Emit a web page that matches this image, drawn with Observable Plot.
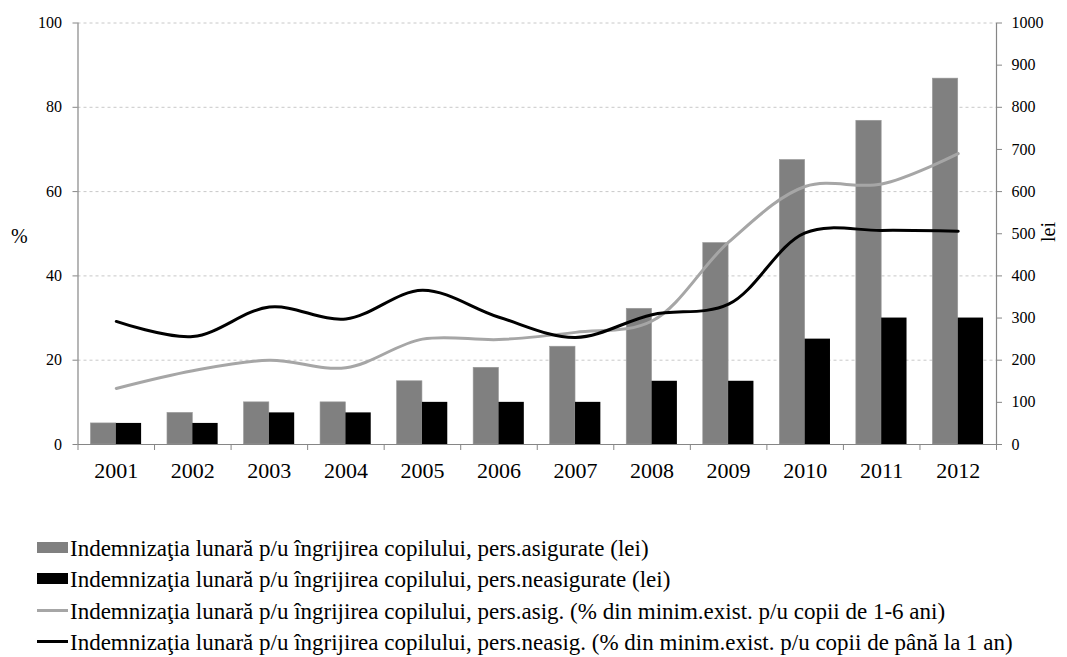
<!DOCTYPE html>
<html>
<head>
<meta charset="utf-8">
<script src="https://cdn.jsdelivr.net/npm/d3@7"></script>
<script src="https://cdn.jsdelivr.net/npm/@observablehq/plot@0.6"></script>
<style>
  html, body { margin: 0; padding: 0; background: #fff; }
  #wrap { position: relative; width: 1067px; height: 657px; font-family: "Liberation Serif", "Times New Roman", serif; color: #000; }
  .axlab { position: absolute; font-size: 20px; line-height: 1; }
  #legend { position: absolute; left: 37px; top: 533px; font-size: 23px; line-height: 31.3px; }
  .row { white-space: nowrap; height: 31.3px; }
  .mk { display: inline-block; width: 31px; vertical-align: 0px; margin-right: 2px; position: relative; }
  .txt { display: inline-block; }
</style>
</head>
<body>
<div id="wrap">
  <div id="chart"></div>
  <div class="axlab" style="left:11px; top:226px;">%</div>
  <div class="axlab" style="left:1038px; top:222px; transform: rotate(-90deg); transform-origin: center;">lei</div>
  <div id="legend"></div>
</div>
<script>
const years = [2001, 2002, 2003, 2004, 2005, 2006, 2007, 2008, 2009, 2010, 2011, 2012];
const asigLei = [50, 75, 100, 100, 150, 182, 232, 322, 478, 675, 768, 868];
const neasigLei = [50, 50, 75, 75, 100, 100, 100, 150, 150, 250, 300, 300];
const asigPct = [13.3, 17.5, 20.0, 18.2, 25.0, 24.9, 26.6, 29.3, 48.0, 61.2, 61.8, 69.0];
const neasigPct = [29.2, 25.6, 32.6, 29.8, 36.6, 30.2, 25.4, 30.8, 33.3, 50.2, 50.8, 50.6];
const leftTicks = [0, 20, 40, 60, 80, 100];
const rightTicks = [0, 100, 200, 300, 400, 500, 600, 700, 800, 900, 1000];
const seriesNames = [
  "Indemnizaţia lunară p/u îngrijirea copilului, pers.asigurate (lei)",
  "Indemnizaţia lunară p/u îngrijirea copilului, pers.neasigurate (lei)",
  "Indemnizaţia lunară p/u îngrijirea copilului, pers.asig. (% din minim.exist. p/u copii de 1-6 ani)",
  "Indemnizaţia lunară p/u îngrijirea copilului, pers.neasig. (% din minim.exist. p/u copii de până la 1 an)"
];

const colors = {barGrey: "#808080", barBlack: "#000000", lineGrey: "#a6a6a6", lineBlack: "#000000", axis: "#868686", grid: "#c8c8c8"};
const leiPerPct = 10; // right axis: 1000 lei == 100 %
const barHalf = 0.331;

const rows = years.map((year, i) => ({year, asigLei: asigLei[i], neasigLei: neasigLei[i], asigPct: asigPct[i], neasigPct: neasigPct[i]}));
const boundaries = [...years.map(y => y - 0.5), years[years.length - 1] + 0.5];

const chart = Plot.plot({
  width: 1067,
  height: 490,
  marginLeft: 77.5,
  marginRight: 71,
  marginTop: 22.5,
  marginBottom: 46,
  x: {type: "linear", domain: [years[0] - 0.5, years[years.length - 1] + 0.5]},
  y: {domain: [0, 100]},
  style: {fontFamily: '"Liberation Serif", "Times New Roman", serif', fontSize: "16px", color: "#000", background: "#fff", overflow: "visible"},
  marks: [
    Plot.ruleY(leftTicks.filter(d => d > 0), {stroke: colors.grid, strokeDasharray: "3,3", strokeWidth: 1}),
    Plot.rectY(rows, {x1: d => d.year - barHalf, x2: d => d.year, y1: 0, y2: d => d.asigLei / leiPerPct, fill: colors.barGrey, stroke: "#9a9a9a", strokeWidth: 0.6}),
    Plot.rectY(rows, {x1: d => d.year, x2: d => d.year + barHalf, y1: 0, y2: d => d.neasigLei / leiPerPct, fill: colors.barBlack}),
    Plot.ruleX([boundaries[0]], {stroke: colors.axis, strokeWidth: 1.2}),
    Plot.ruleX([boundaries[boundaries.length - 1]], {stroke: colors.axis, strokeWidth: 1.2}),
    Plot.ruleY([0], {stroke: colors.axis, strokeWidth: 1.2}),
    Plot.line(rows, {x: "year", y: "asigPct", stroke: colors.lineGrey, strokeWidth: 3, curve: "catmull-rom"}),
    Plot.line(rows, {x: "year", y: "neasigPct", stroke: colors.lineBlack, strokeWidth: 3, curve: "catmull-rom"}),
    Plot.axisY({anchor: "left", ticks: leftTicks, tickSize: 5, tickPadding: 11, label: null, stroke: colors.axis, fontSize: 16}),
    Plot.axisY({anchor: "right", ticks: rightTicks.map(v => v / leiPerPct), tickFormat: d => String(Math.round(d * leiPerPct)), tickSize: 5, tickPadding: 10, label: null, stroke: colors.axis, fontSize: 16}),
    Plot.axisX({ticks: boundaries, tickFormat: () => "", tickSize: 6, label: null, stroke: colors.axis}),
    Plot.axisX({ticks: years, tickFormat: d => String(d), tickSize: 0, tickPadding: 18, label: null, fontSize: 22})
  ]
});
document.getElementById("chart").appendChild(chart);

const legend = document.getElementById("legend");
const markers = [
  {type: "rect", color: colors.barGrey},
  {type: "rect", color: colors.barBlack},
  {type: "line", color: colors.lineGrey},
  {type: "line", color: colors.lineBlack}
];
seriesNames.forEach((name, i) => {
  const row = document.createElement("div");
  row.className = "row";
  const mk = document.createElement("span");
  mk.className = "mk";
  const m = markers[i];
  if (m.type === "rect") { mk.style.height = "11px"; mk.style.background = m.color; mk.style.top = "-3px"; }
  else { mk.style.height = "3px"; mk.style.background = m.color; mk.style.top = "-7px"; }
  const t = document.createElement("span");
  t.className = "txt";
  t.textContent = name;
  row.appendChild(mk);
  row.appendChild(t);
  legend.appendChild(row);
});
</script>
</body>
</html>
